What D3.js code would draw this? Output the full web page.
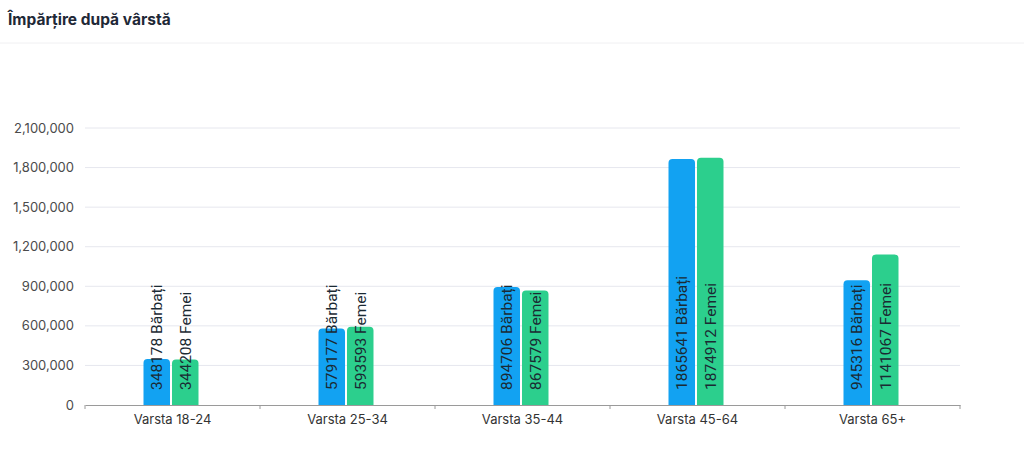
<!DOCTYPE html>
<html><head><meta charset="utf-8">
<script src="https://cdn.jsdelivr.net/npm/d3@7"></script>
<style>
body{margin:0;background:#fff;font-family:Inter,"Noto Sans",sans-serif;}
</style></head><body>
<svg id="c" width="1024" height="452"></svg>
<script>
const categories = ["Varsta 18-24","Varsta 25-34","Varsta 35-44","Varsta 45-64","Varsta 65+"];
const seriesNames = ["Bărbați","Femei"];
const barbati = [348178, 579177, 894706, 1865641, 945316];
const femei = [344208, 593593, 867579, 1874912, 1141067];
const yTicks = [0,300000,600000,900000,1200000,1500000,1800000,2100000];
const colors = ["#12a2f2","#2ccf8d"];

const svg = d3.select("#c");
svg.append("text").attr("x",8).attr("y",25).text("Împărțire după vârstă")
  .attr("font-size",15.5).attr("font-weight",700).attr("fill","#1f2937");
svg.append("line").attr("x1",0).attr("x2",1024).attr("y1",43).attr("y2",43).attr("stroke","#f0f0f2");

const L=85,R=960,T=128,B=405;
const x = d3.scaleBand().domain(categories).range([L,R]);
const y = d3.scaleLinear().domain([0,2100000]).range([B,T]);
const fmt = d3.format(",");

svg.append("g").selectAll("line").data(yTicks.slice(1)).join("line")
  .attr("x1",L).attr("x2",R).attr("y1",d=>y(d)).attr("y2",d=>y(d))
  .attr("stroke","#e6e7ee").attr("stroke-width",1);

svg.append("g").selectAll("text").data(yTicks).join("text")
  .attr("x",74).attr("y",d=>y(d)+4.5).attr("text-anchor","end")
  .attr("font-size",13).attr("fill","#4b4b4b").text(d=>fmt(d));

const xa = svg.append("g").attr("transform",`translate(0,${B})`)
  .call(d3.axisBottom(x).tickSize(0).tickPadding(10));
xa.select(".domain").attr("stroke","#9a9a9a");
xa.selectAll("text").attr("font-size",13).attr("fill","#333").attr("font-family","Inter,'Noto Sans',sans-serif");
svg.append("g").selectAll("line").data(d3.range(categories.length+1)).join("line")
  .attr("x1",i=>L+i*x.bandwidth()).attr("x2",i=>L+i*x.bandwidth())
  .attr("y1",B).attr("y2",B+4).attr("stroke","#9a9a9a");

const inner = d3.scaleBand().domain([0,1]).range([0,55]).paddingInner(0.07);
const data = [barbati, femei];
const bw = inner.bandwidth();
data.forEach((vals, s) => {
  const g = svg.append("g");
  categories.forEach((c, i) => {
    const x0 = x(c) + x.bandwidth()/2 - 29 + inner(s);
    const y0 = y(vals[i]);
    const r = 4;
    g.append("path").attr("fill", colors[s])
      .attr("d", `M${x0},${B}V${y0+r}Q${x0},${y0} ${x0+r},${y0}H${x0+bw-r}Q${x0+bw},${y0} ${x0+bw},${y0+r}V${B}Z`);
    g.append("text")
      .attr("transform", `translate(${x0+bw/2+5.5},${B-15}) rotate(-90)`)
      .attr("font-size",15.5).attr("font-family","Roboto,sans-serif").attr("fill","#1b2a33")
      .text(`${vals[i]} ${seriesNames[s]}`);
  });
});
</script></body></html>
